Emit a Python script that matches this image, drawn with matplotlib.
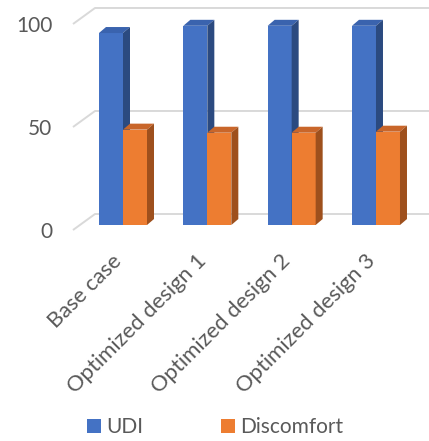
import matplotlib
matplotlib.use("Agg")
import matplotlib.pyplot as plt
from matplotlib.patches import Polygon, Patch

# ---- data ----
categories = ["Base case", "Optimized design 1", "Optimized design 2", "Optimized design 3"]
udi = [93.2, 96.7, 96.7, 96.7]
discomfort = [46.3, 44.8, 44.8, 45.3]
series_names = ["UDI", "Discomfort"]
y_ticks = [0, 50, 100]

# ---- style ----
plt.rcParams['font.family'] = ['Lato', 'DejaVu Sans']
TXT = "#595959"
GRID = "#d9d9d9"
front_cols = ["#4472C4", "#ED7D31"]
top_cols = ["#3A63AE", "#C9662A"]
side_cols = ["#2B4A80", "#9E501D"]

W, H = 429, 441
fig = plt.figure(figsize=(W / 100, H / 100), dpi=100)
ax = fig.add_axes([73 / W, (H - 232) / H, 356 / W, 232 / H])
ax.set_xlim(-0.5929, 3.6286)
ax.set_ylim(-3.398, 109.22)
for s in ax.spines.values():
    s.set_visible(False)

# 3D oblique offsets (in data units)
dx, dy = 0.083, 2.9          # bar depth
wall_dx, wall_front, wall_back = 0.261, -2.43, 5.34  # floor/wall geometry
x_left = ax.get_xlim()[0]
x_right = ax.get_xlim()[1]

# back wall gridlines + left wall diagonals
for v in y_ticks:
    ax.plot([x_left, x_left + wall_dx, x_right], [v + wall_front, v + wall_back, v + wall_back],
            color=GRID, lw=1.4, zorder=1, solid_capstyle='butt', clip_on=False)

bw = 0.2846
for i in range(len(categories)):
    for k, vals in enumerate([udi, discomfort]):
        h = vals[i]
        x0 = i - bw + k * bw
        x1 = x0 + bw
        ax.bar(x0, h, width=bw, align='edge', color=front_cols[k], zorder=3 + k, lw=0)
        ax.add_patch(Polygon([(x0, h), (x1, h), (x1 + dx, h + dy), (x0 + dx, h + dy)],
                             closed=True, facecolor=top_cols[k], lw=0, zorder=3 + k))
        ax.add_patch(Polygon([(x1, 0), (x1, h), (x1 + dx, h + dy), (x1 + dx, dy)],
                             closed=True, facecolor=side_cols[k], lw=0, zorder=3 + k))

# y tick labels at the front edge of the wall
ax.set_yticks([v + wall_front for v in y_ticks], [str(v) for v in y_ticks])
ax.tick_params(axis='y', length=0, pad=15, labelsize=15, labelcolor=TXT)

ax.set_xticks([i - 0.05 for i in range(len(categories))], categories)
ax.tick_params(axis='x', length=0, pad=18.5, labelsize=15.8, labelcolor=TXT)
for lab in ax.get_xticklabels():
    lab.set_rotation(45)
    lab.set_ha('right')
    lab.set_va('center')
    lab.set_rotation_mode('anchor')

handles = [Patch(facecolor=front_cols[k], edgecolor='none', label=series_names[k]) for k in range(2)]
fig.legend(handles=handles, loc='center left', bbox_to_anchor=(87 / W, (H - 427) / H),
           ncol=2, frameon=False, fontsize=15, labelcolor=TXT,
           handlelength=0.67, handleheight=0.67, handletextpad=0.25,
           columnspacing=3.75, borderpad=0, borderaxespad=0)

fig.savefig("out.png", dpi=100)
